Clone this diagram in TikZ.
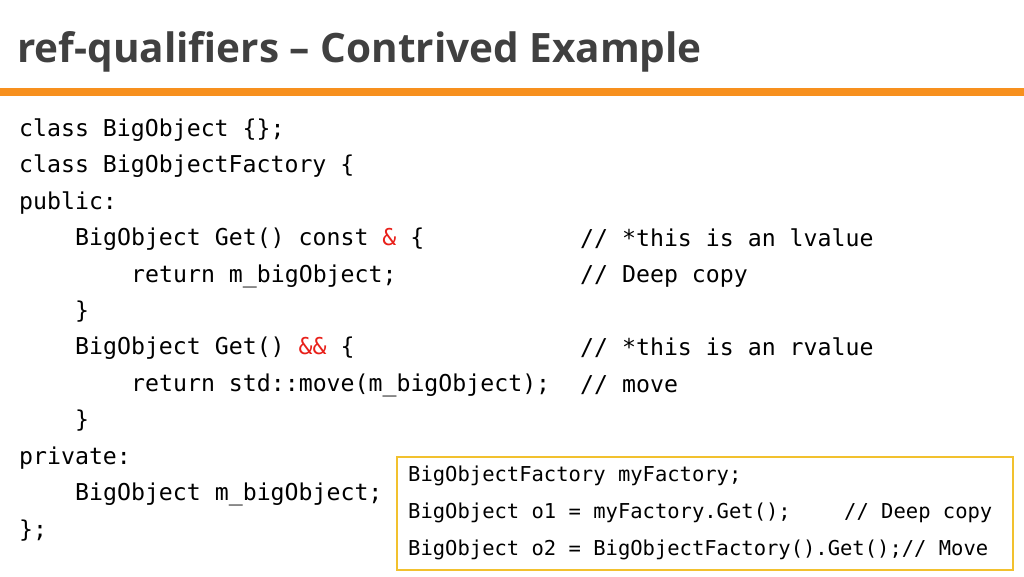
\documentclass[tikz,border=0pt]{standalone}
\usepackage{fontspec}
\setmainfont{Open Sans}
\setmonofont{DejaVu Sans Mono}
\definecolor{titlegray}{HTML}{404040}
\definecolor{barorange}{HTML}{F7901E}
\definecolor{boxgold}{HTML}{F2C12E}
\definecolor{kwred}{HTML}{E8201A}
\tikzset{
  code/.style={anchor=west, inner sep=0pt, font=\ttfamily\fontsize{23.2}{27}\selectfont},
  small/.style={anchor=west, inner sep=0pt, font=\ttfamily\fontsize{20.5}{24}\selectfont},
}
\begin{document}
\begin{tikzpicture}[x=1pt,y=-1pt]
	\useasboundingbox (0,0) rectangle (1024,576);
	% Title
	\node[anchor=west, inner sep=0pt, text=titlegray, font=\bfseries\fontsize{40.5}{46}\selectfont] (title) at (17,52) {ref-qualifiers – Contrived Example};
	\fill[barorange] (0,88) rectangle (1024,96);

	% Class
	\node[code] (l1) at (19,130) {class BigObject \{\};};
	\node[code] (l2) at (19,166) {class BigObjectFactory \{};
	\node[code] (l3) at (19,203) {public:};
	\node[code] (l4) at (75,239) {BigObject Get() const \textcolor{kwred}{\&} \{};
	\node[code] (l5) at (131,276) {return m\_bigObject;};
	\node[code] (l6) at (75,312) {\}};
	\node[code] (l7) at (75,348) {BigObject Get() \textcolor{kwred}{\&\&} \{};
	\node[code] (l8) at (131,385) {return std::move(m\_bigObject);};
	\node[code] (l9) at (75,421) {\}};
	\node[code] (l10) at (19,458) {private:};
	\node[code] (l11) at (75,494) {BigObject m\_bigObject;};
	\node[code] (l12) at (19,531) {\};};

	% Comments
	\node[code] (c1) at (580,239) {// *this is an lvalue};
	\node[code] (c2) at (580,276) {// Deep copy};
	\node[code] (c3) at (580,348) {// *this is an rvalue};
	\node[code] (c4) at (580,385) {// move};

	% Usage
	\draw[boxgold, line width=2pt, fill=white] (397,457) rectangle (1013,570);
	\node[small] (u1) at (408,476) {BigObjectFactory myFactory;};
	\node[small] (u2) at (408,513) {BigObject o1 = myFactory.Get();};
	\node[small] (u2c) at (844,513) {// Deep copy};
	\node[small] (u3) at (408,550) {BigObject o2 = BigObjectFactory().Get();// Move};
\end{tikzpicture}
\end{document}
